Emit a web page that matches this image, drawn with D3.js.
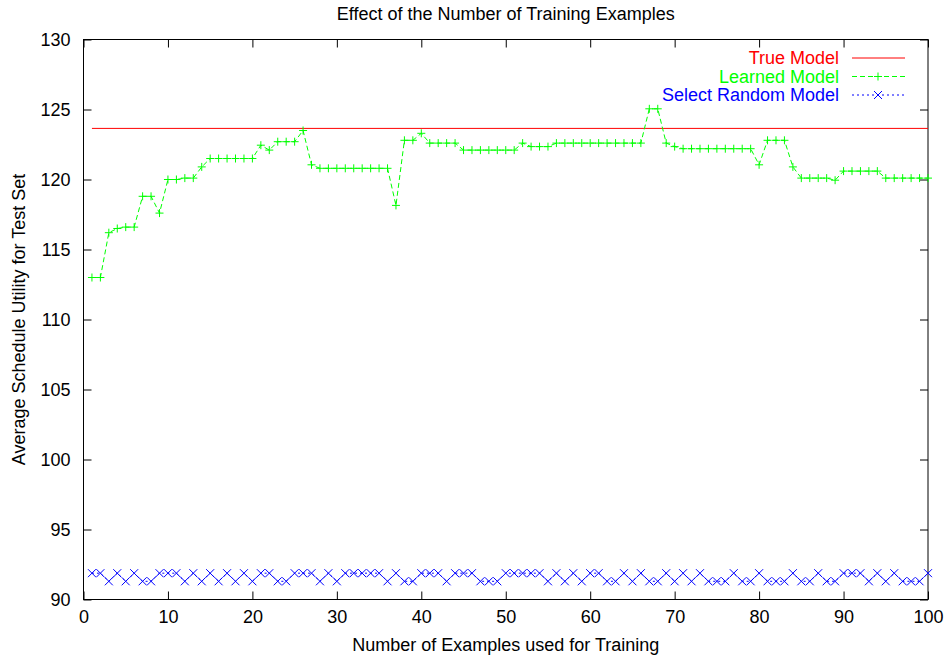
<!DOCTYPE html>
<meta charset="utf-8">
<style>
    body { margin: 0; background: #fff; }
    text { font-family: "Liberation Sans", Arial, sans-serif; }
    .axis path { display: none; }
    .axis line { stroke: #000; }
</style>
<svg width="946" height="657"></svg>
<script src="https://d3js.org/d3.v7.min.js"></script>
<script>

    // values
    var xTicks = [0, 10, 20, 30, 40, 50, 60, 70, 80, 90, 100];
    var yTicks = [90, 95, 100, 105, 110, 115, 120, 125, 130];

    var trueModel = 123.65;

    var learned = [
        113.0, 113.0, 116.2, 116.5, 116.6, 116.6, 118.8, 118.8, 117.6, 120.0,
        120.0, 120.1, 120.1, 120.9, 121.5, 121.5, 121.5, 121.5, 121.5, 121.5,
        122.45, 122.1, 122.7, 122.7, 122.7, 123.5, 121.05, 120.8, 120.8, 120.8,
        120.8, 120.8, 120.8, 120.8, 120.8, 120.8, 118.15, 122.8, 122.8, 123.3,
        122.6, 122.6, 122.6, 122.6, 122.1, 122.1, 122.1, 122.1, 122.1, 122.1,
        122.1, 122.6, 122.35, 122.35, 122.35, 122.6, 122.6, 122.6, 122.6, 122.6,
        122.6, 122.6, 122.6, 122.6, 122.6, 122.6, 125.05, 125.05, 122.6, 122.35,
        122.2, 122.2, 122.2, 122.2, 122.2, 122.2, 122.2, 122.2, 122.2, 121.05,
        122.8, 122.8, 122.8, 120.9, 120.1, 120.1, 120.1, 120.1, 119.95, 120.6,
        120.6, 120.6, 120.6, 120.6, 120.1, 120.1, 120.1, 120.1, 120.1, 120.1
    ];

    var random = [
        91.88, 91.88, 91.3, 91.88, 91.3, 91.88, 91.3, 91.3, 91.88, 91.88,
        91.88, 91.3, 91.88, 91.3, 91.88, 91.3, 91.88, 91.3, 91.88, 91.3,
        91.88, 91.88, 91.3, 91.3, 91.88, 91.88, 91.88, 91.3, 91.88, 91.3,
        91.88, 91.88, 91.88, 91.88, 91.88, 91.3, 91.88, 91.3, 91.3, 91.88,
        91.88, 91.88, 91.3, 91.88, 91.88, 91.88, 91.3, 91.3, 91.3, 91.88,
        91.88, 91.88, 91.88, 91.88, 91.3, 91.88, 91.3, 91.88, 91.3, 91.88,
        91.88, 91.3, 91.3, 91.88, 91.3, 91.88, 91.3, 91.3, 91.88, 91.3,
        91.88, 91.3, 91.88, 91.3, 91.3, 91.3, 91.88, 91.3, 91.3, 91.88,
        91.3, 91.3, 91.3, 91.88, 91.3, 91.3, 91.88, 91.3, 91.3, 91.88,
        91.88, 91.88, 91.3, 91.88, 91.3, 91.88, 91.3, 91.3, 91.3, 91.88
    ];

    var svg = d3.select("svg"),
        margin = {top: 39.5, right: 18, bottom: 57.5, left: 83.5},
        width = +svg.attr("width") - margin.left - margin.right,
        height = +svg.attr("height") - margin.top - margin.bottom;

    var x = d3.scaleLinear().domain([0, 100]).range([0, width]),
        y = d3.scaleLinear().domain([90, 130]).range([height, 0]);

    var g = svg.append("g")
        .attr("transform", "translate(" + margin.left + "," + margin.top + ")");

    var tickLen = 8;

    // bottom axis, ticks pointing inward
    g.append("g")
        .attr("class", "axis")
        .attr("transform", "translate(0," + height + ")")
        .call(d3.axisBottom(x).tickValues(xTicks).tickSizeInner(-tickLen).tickPadding(11))
        .selectAll("text").style("font-size", "18px").attr("fill", "#000");

    g.append("g")
        .attr("class", "axis")
        .call(d3.axisTop(x).tickValues(xTicks).tickSizeInner(-tickLen).tickFormat(""));

    g.append("g")
        .attr("class", "axis")
        .call(d3.axisLeft(y).tickValues(yTicks).tickSizeInner(-tickLen).tickPadding(13))
        .selectAll("text").style("font-size", "18px").attr("fill", "#000");

    g.append("g")
        .attr("class", "axis")
        .attr("transform", "translate(" + width + ",0)")
        .call(d3.axisRight(y).tickValues(yTicks).tickSizeInner(-tickLen).tickFormat(""));

    // frame
    g.append("rect")
        .attr("width", width)
        .attr("height", height)
        .attr("fill", "none")
        .attr("stroke", "#000");

    // true model
    g.append("line")
        .attr("x1", x(1)).attr("x2", x(100))
        .attr("y1", y(trueModel)).attr("y2", y(trueModel))
        .attr("stroke", "#ff0000");

    var line = d3.line()
        .x(function(d, i) { return x(i + 1); })
        .y(function(d) { return y(d); });

    // learned model
    g.append("path")
        .datum(learned)
        .attr("d", line)
        .attr("fill", "none")
        .attr("stroke", "#00ff00")
        .attr("stroke-dasharray", "5,3");

    var plus = "M-4,0H4M0,-4V4",
        cross = "M-4,-4L4,4M-4,4L4,-4";

    g.selectAll(".plus")
        .data(learned)
        .enter().append("path")
        .attr("class", "plus")
        .attr("transform", function(d, i) { return "translate(" + x(i + 1) + "," + y(d) + ")"; })
        .attr("d", plus)
        .attr("stroke", "#00ff00");

    // random model
    g.append("path")
        .datum(random)
        .attr("d", line)
        .attr("fill", "none")
        .attr("stroke", "#0000ff")
        .attr("stroke-dasharray", "2,3");

    g.selectAll(".cross")
        .data(random)
        .enter().append("path")
        .attr("class", "cross")
        .attr("transform", function(d, i) { return "translate(" + x(i + 1) + "," + y(d) + ")"; })
        .attr("d", cross)
        .attr("stroke", "#0000ff");

    // legend
    var legend = [
        {name: "True Model", color: "#ff0000", dash: null, mark: null},
        {name: "Learned Model", color: "#00ff00", dash: "5,3", mark: plus},
        {name: "Select Random Model", color: "#0000ff", dash: "2,3", mark: cross}
    ];

    var lg = svg.selectAll(".legend")
        .data(legend)
        .enter().append("g")
        .attr("class", "legend")
        .attr("transform", function(d, i) { return "translate(0," + (58 + i * 18.5) + ")"; });

    lg.append("text")
        .attr("x", 839)
        .attr("dy", "0.35em")
        .attr("text-anchor", "end")
        .style("font-size", "18px")
        .attr("fill", function(d) { return d.color; })
        .text(function(d) { return d.name; });

    lg.append("line")
        .attr("x1", 852).attr("x2", 905)
        .attr("stroke", function(d) { return d.color; })
        .attr("stroke-dasharray", function(d) { return d.dash; });

    lg.filter(function(d) { return d.mark; })
        .append("path")
        .attr("transform", "translate(878,0)")
        .attr("d", function(d) { return d.mark; })
        .attr("stroke", function(d) { return d.color; });

    // titles
    svg.append("text")
        .attr("x", margin.left + width / 2)
        .attr("y", 20)
        .attr("text-anchor", "middle")
        .style("font-size", "18px")
        .text("Effect of the Number of Training Examples");

    svg.append("text")
        .attr("x", margin.left + width / 2)
        .attr("y", 651)
        .attr("text-anchor", "middle")
        .style("font-size", "18px")
        .text("Number of Examples used for Training");

    svg.append("text")
        .attr("transform", "rotate(-90)")
        .attr("x", -(margin.top + height / 2))
        .attr("y", 25)
        .attr("text-anchor", "middle")
        .style("font-size", "18px")
        .text("Average Schedule Utility for Test Set");

</script>
